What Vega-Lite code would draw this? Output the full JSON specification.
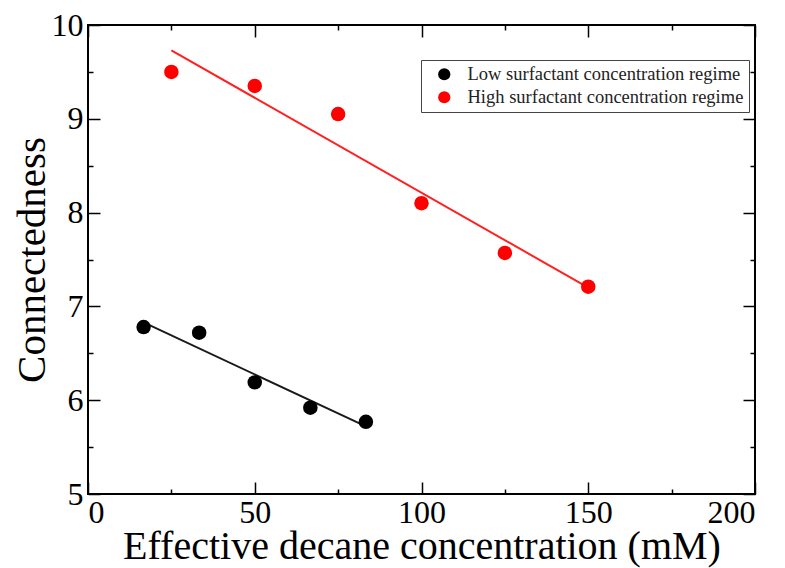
{
  "$schema": "https://vega.github.io/schema/vega-lite/v6.json",
  "width": 667,
  "height": 469,
  "autosize": {"type": "none"},
  "padding": {"left": 88, "top": 25, "right": 30, "bottom": 74},
  "background": "white",
  "config": {
    "view": {"stroke": "#000000", "strokeWidth": 2},
    "font": "Liberation Serif",
    "axis": {
      "domain": false,
      "grid": false,
      "labelFont": "Liberation Serif",
      "labelColor": "#000000",
      "labelFontSize": 32,
      "titleFont": "Liberation Serif",
      "titleFontWeight": "normal",
      "titleColor": "#000000",
      "tickColor": "#000000",
      "tickWidth": 1.5
    }
  },
  "datasets": {
    "measured": [
      {"regime": "Low surfactant concentration regime", "decane": 16.67, "connectedness": 6.78},
      {"regime": "Low surfactant concentration regime", "decane": 33.33, "connectedness": 6.72},
      {"regime": "Low surfactant concentration regime", "decane": 50, "connectedness": 6.19},
      {"regime": "Low surfactant concentration regime", "decane": 66.67, "connectedness": 5.92},
      {"regime": "Low surfactant concentration regime", "decane": 83.33, "connectedness": 5.77},
      {"regime": "High surfactant concentration regime", "decane": 25, "connectedness": 9.5},
      {"regime": "High surfactant concentration regime", "decane": 50, "connectedness": 9.35},
      {"regime": "High surfactant concentration regime", "decane": 75, "connectedness": 9.05},
      {"regime": "High surfactant concentration regime", "decane": 100, "connectedness": 8.1},
      {"regime": "High surfactant concentration regime", "decane": 125, "connectedness": 7.57},
      {"regime": "High surfactant concentration regime", "decane": 150, "connectedness": 7.21}
    ],
    "fitted": [
      {"regime": "Low surfactant concentration regime", "decane": 16.67, "connectedness": 6.83},
      {"regime": "Low surfactant concentration regime", "decane": 83.33, "connectedness": 5.72},
      {"regime": "High surfactant concentration regime", "decane": 25, "connectedness": 9.73},
      {"regime": "High surfactant concentration regime", "decane": 150, "connectedness": 7.2}
    ]
  },
  "layer": [
    {
      "data": {"name": "fitted"},
      "transform": [{"filter": "datum.regime === 'High surfactant concentration regime'"}],
      "mark": {"type": "line", "strokeWidth": 2, "color": "#ff2020"},
      "encoding": {
        "x": {
          "field": "decane", "type": "quantitative",
          "scale": {"domain": [0, 200], "nice": false},
          "axis": {
            "orient": "top", "labels": false, "title": null,
            "values": [0, 25, 50, 75, 100, 125, 150, 175, 200],
            "tickSize": {"condition": {"test": "datum.value % 50 === 0", "value": -12}, "value": -5}
          }
        },
        "y": {
          "field": "connectedness", "type": "quantitative",
          "scale": {"domain": [5, 10], "nice": false, "zero": false},
          "axis": {
            "orient": "right", "labels": false, "title": null,
            "values": [5, 5.5, 6, 6.5, 7, 7.5, 8, 8.5, 9, 9.5, 10],
            "tickSize": {"condition": {"test": "datum.value % 1 === 0", "value": -12}, "value": -5}
          }
        }
      }
    },
    {
      "data": {"name": "fitted"},
      "transform": [{"filter": "datum.regime === 'Low surfactant concentration regime'"}],
      "mark": {"type": "line", "strokeWidth": 2, "color": "#1a1a1a"},
      "encoding": {
        "x": {"field": "decane", "type": "quantitative", "axis": null},
        "y": {"field": "connectedness", "type": "quantitative", "axis": null}
      }
    },
    {
      "data": {"name": "measured"},
      "mark": {"type": "point", "filled": true, "opacity": 1, "size": 210},
      "encoding": {
        "x": {
          "field": "decane", "type": "quantitative",
          "axis": {
            "orient": "bottom",
            "title": "Effective decane concentration (mM)",
            "titleFontSize": 40,
            "titlePadding": -2,
            "labelPadding": 15,
            "values": [0, 25, 50, 75, 100, 125, 150, 175, 200],
            "labelExpr": "datum.value % 50 === 0 ? toString(datum.value) : ''",
            "tickSize": {"condition": {"test": "datum.value % 50 === 0", "value": -12}, "value": -5}
          }
        },
        "y": {
          "field": "connectedness", "type": "quantitative",
          "axis": {
            "orient": "left",
            "title": "Connectedness",
            "titleFontSize": 41,
            "titlePadding": -2,
            "labelPadding": 17,
            "values": [5, 5.5, 6, 6.5, 7, 7.5, 8, 8.5, 9, 9.5, 10],
            "labelExpr": "datum.value % 1 === 0 ? toString(datum.value) : ''",
            "tickSize": {"condition": {"test": "datum.value % 1 === 0", "value": -12}, "value": -5}
          }
        },
        "color": {
          "field": "regime", "type": "nominal",
          "scale": {
            "domain": ["Low surfactant concentration regime", "High surfactant concentration regime"],
            "range": ["#000000", "#ff0000"]
          },
          "legend": {
            "title": null,
            "orient": "none",
            "legendX": 333,
            "legendY": 35,
            "direction": "vertical",
            "strokeColor": "#444444",
            "fillColor": "white",
            "padding": 5,
            "symbolType": "circle",
            "symbolSize": 150,
            "symbolStrokeWidth": 0,
            "symbolOffset": 9,
            "labelFont": "Liberation Serif",
            "labelFontSize": 18.5,
            "labelColor": "#222222",
            "labelOffset": 14,
            "labelLimit": 400,
            "rowPadding": 4
          }
        }
      }
    }
  ]
}
